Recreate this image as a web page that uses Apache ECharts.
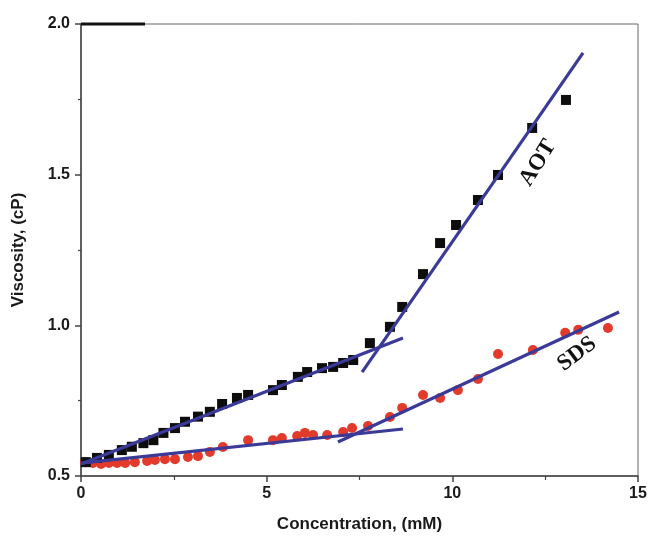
<!DOCTYPE html>
<html>
<head>
<meta charset="utf-8">
<script src="https://cdn.jsdelivr.net/npm/echarts@6/dist/echarts.min.js"></script>
<style>
  html, body { margin: 0; padding: 0; background: #fff; }
  #chart { width: 650px; height: 538px; }
</style>
</head>
<body>
<div id="chart"></div>
<script>
// Viscosity of AOT and SDS solutions vs. surfactant concentration
const aotConc = [0.13, 0.43, 0.75, 1.10, 1.37, 1.68, 1.95, 2.22, 2.53, 2.80, 3.15, 3.47, 3.80, 4.20, 4.50,
  5.17, 5.41, 5.84, 6.09, 6.49, 6.79, 7.06, 7.33, 7.78, 8.32, 8.65, 9.21, 9.67, 10.10, 10.69, 11.23, 12.15, 13.06];
const aotVisc = [0.546, 0.560, 0.570, 0.586, 0.597, 0.609, 0.619, 0.643, 0.659, 0.680, 0.697, 0.713, 0.739, 0.759, 0.769,
  0.785, 0.802, 0.829, 0.845, 0.858, 0.862, 0.875, 0.885, 0.941, 0.995, 1.061, 1.170, 1.273, 1.333, 1.416, 1.499, 1.655, 1.748];

const sdsConc = [0.11, 0.32, 0.54, 0.75, 0.97, 1.19, 1.45, 1.78, 1.99, 2.26, 2.53, 2.88, 3.15, 3.47, 3.82, 4.50,
  5.17, 5.41, 5.82, 6.03, 6.25, 6.63, 7.06, 7.30, 7.73, 8.32, 8.65, 9.21, 9.67, 10.15, 10.69, 11.23, 12.17, 13.04, 13.39, 14.19];
const sdsVisc = [0.546, 0.543, 0.540, 0.543, 0.543, 0.543, 0.546, 0.550, 0.553, 0.556, 0.556, 0.563, 0.566, 0.580, 0.596, 0.619,
  0.619, 0.626, 0.633, 0.643, 0.636, 0.636, 0.646, 0.659, 0.666, 0.696, 0.726, 0.769, 0.759, 0.785, 0.822, 0.905, 0.918, 0.975, 0.985, 0.991];

// Linear fits below and above the break point (endpoints of each segment)
const aotFitLow  = [[0, 0.540], [8.67, 0.958]];
const aotFitHigh = [[7.57, 0.845], [13.52, 1.904]];
const sdsFitLow  = [[0, 0.543], [8.67, 0.656]];
const sdsFitHigh = [[6.92, 0.613], [14.49, 1.044]];

const xTicks = [0, 5, 10, 15];
const yTicks = [0.5, 1.0, 1.5, 2.0];

const zip = (xs, ys) => xs.map((x, i) => [x, ys[i]]);

const fitColor = '#3b3a98';
const axisFont = 'Liberation Sans, Arial, sans-serif';
const tagFont = 'bold 23px "Liberation Serif", "Times New Roman", serif';

const chart = echarts.init(document.getElementById('chart'), null, { renderer: 'canvas' });

const fitLine = (data) => ({
  type: 'line',
  data: data,
  symbol: 'none',
  z: 5,
  lineStyle: { color: fitColor, width: 3.2 },
  silent: true
});

chart.setOption({
  animation: false,
  backgroundColor: '#ffffff',
  grid: { left: 81, right: 12, top: 24, bottom: 62, show: true, borderColor: '#666', borderWidth: 1 },
  xAxis: {
    type: 'value',
    min: xTicks[0],
    max: xTicks[xTicks.length - 1],
    interval: 5,
    name: 'Concentration, (mM)',
    nameLocation: 'middle',
    nameGap: 40,
    nameTextStyle: { fontFamily: axisFont, fontWeight: 'bold', fontSize: 17, color: '#1a1a1a' },
    axisLine: { show: true, lineStyle: { color: '#444', width: 1.5 } },
    axisTick: { show: true, inside: false, length: 6, lineStyle: { color: '#444', width: 1.5 } },
    minorTick: { show: true, splitNumber: 2, length: 4, lineStyle: { color: '#444', width: 1.2 } },
    axisLabel: { fontFamily: axisFont, fontWeight: 'bold', fontSize: 16, color: '#1a1a1a', margin: 10 },
    splitLine: { show: false }
  },
  yAxis: {
    type: 'value',
    min: yTicks[0],
    max: yTicks[yTicks.length - 1],
    interval: 0.5,
    name: 'Viscosity, (cP)',
    nameLocation: 'middle',
    nameGap: 54,
    nameTextStyle: { fontFamily: axisFont, fontWeight: 'bold', fontSize: 17, color: '#1a1a1a' },
    axisLine: { show: true, lineStyle: { color: '#444', width: 1.5 } },
    axisTick: { show: true, inside: false, length: 6, lineStyle: { color: '#444', width: 1.5 } },
    minorTick: { show: true, splitNumber: 2, length: 3, lineStyle: { color: '#444', width: 1.2 } },
    axisLabel: {
      fontFamily: axisFont, fontWeight: 'bold', fontSize: 16, color: '#1a1a1a', margin: 11,
      formatter: (v) => v.toFixed(1)
    },
    splitLine: { show: false }
  },
  series: [
    {
      name: 'SDS',
      type: 'scatter',
      data: zip(sdsConc, sdsVisc),
      symbol: 'circle',
      symbolSize: 10,
      z: 3,
      itemStyle: { color: '#e23a2b', opacity: 1 }
    },
    {
      name: 'AOT',
      type: 'scatter',
      data: zip(aotConc, aotVisc),
      symbol: 'rect',
      symbolSize: 10,
      z: 4,
      itemStyle: { color: '#0d0d0d', opacity: 1 }
    },
    fitLine(aotFitLow),
    fitLine(aotFitHigh),
    fitLine(sdsFitLow),
    fitLine(sdsFitHigh)
  ],
  graphic: [
    {
      type: 'line',
      shape: { x1: 81, y1: 24, x2: 145, y2: 24 },
      style: { stroke: '#111', lineWidth: 3 },
      z: 10
    },
    {
      type: 'text',
      x: 538, y: 163,
      rotation: 58 * Math.PI / 180,
      style: { text: 'AOT', font: tagFont, fill: '#111', align: 'center', verticalAlign: 'middle' },
      z: 10
    },
    {
      type: 'text',
      x: 577, y: 354,
      rotation: 37 * Math.PI / 180,
      style: { text: 'SDS', font: tagFont, fill: '#111', align: 'center', verticalAlign: 'middle' },
      z: 10
    }
  ]
});
</script>
</body>
</html>
